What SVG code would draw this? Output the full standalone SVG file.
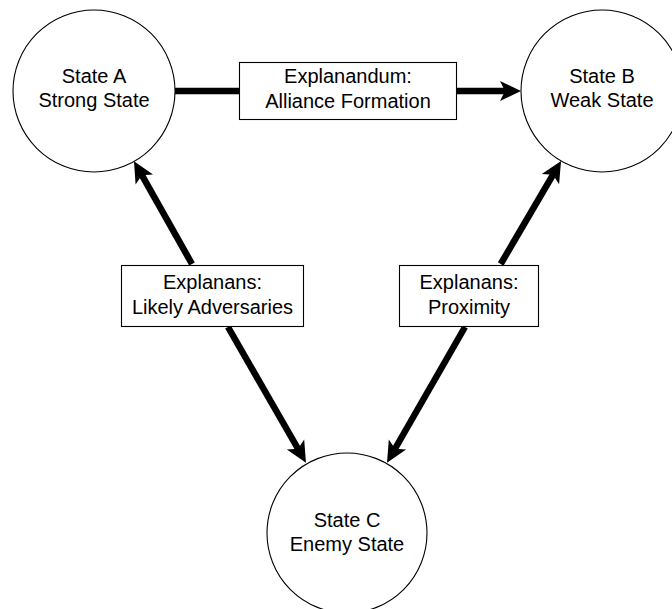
<svg xmlns="http://www.w3.org/2000/svg" width="672" height="609" viewBox="0 0 672 609">
<style>
.node circle, .node rect { fill: #fff; stroke: #000; stroke-width: 1.1; }
.node text { font-family: "Liberation Sans", Arial, sans-serif; font-size: 20px; fill: #000; text-anchor: middle; }
.conn line { stroke: #000; stroke-width: 6.5; fill: none; }
</style>
<defs>
<marker id="ah" markerUnits="userSpaceOnUse" markerWidth="26" markerHeight="24" viewBox="-13 -12 26 24" refX="0" refY="0" orient="auto">
<path d="M10,0 L-11,-10 L-6,0 L-11,10 Z" fill="#000"/>
</marker>
</defs>
<g id="connectors" class="conn">
<line x1="175" y1="91" x2="240" y2="91"/>
<line x1="456" y1="91" x2="511" y2="91" marker-end="url(#ah)"/>
<line x1="192" y1="264" x2="138.9" y2="169.9" marker-end="url(#ah)"/>
<line x1="228" y1="327" x2="301" y2="454" marker-end="url(#ah)"/>
<line x1="500.7" y1="264" x2="556" y2="169.6" marker-end="url(#ah)"/>
<line x1="465" y1="327" x2="392" y2="454" marker-end="url(#ah)"/>
</g>
<g id="stateA" class="node">
<circle cx="94" cy="91" r="81"/>
<text x="94" y="83">State A</text>
<text x="94" y="107">Strong State</text>
</g>
<g id="stateB" class="node">
<circle cx="602" cy="91" r="81"/>
<text x="602" y="83">State B</text>
<text x="602" y="107">Weak State</text>
</g>
<g id="stateC" class="node">
<circle cx="347" cy="533" r="80"/>
<text x="347" y="527">State C</text>
<text x="347" y="551">Enemy State</text>
</g>
<g id="explanandum" class="node">
<rect x="239.5" y="62.5" width="217" height="57"/>
<text x="348" y="83">Explanandum:</text>
<text x="348" y="108">Alliance Formation</text>
</g>
<g id="adversaries" class="node">
<rect x="121.5" y="265.5" width="182" height="61"/>
<text x="212.5" y="289">Explanans:</text>
<text x="212.5" y="314">Likely Adversaries</text>
</g>
<g id="proximity" class="node">
<rect x="399.5" y="265.5" width="139" height="61"/>
<text x="469" y="289">Explanans:</text>
<text x="469" y="314">Proximity</text>
</g>
</svg>
